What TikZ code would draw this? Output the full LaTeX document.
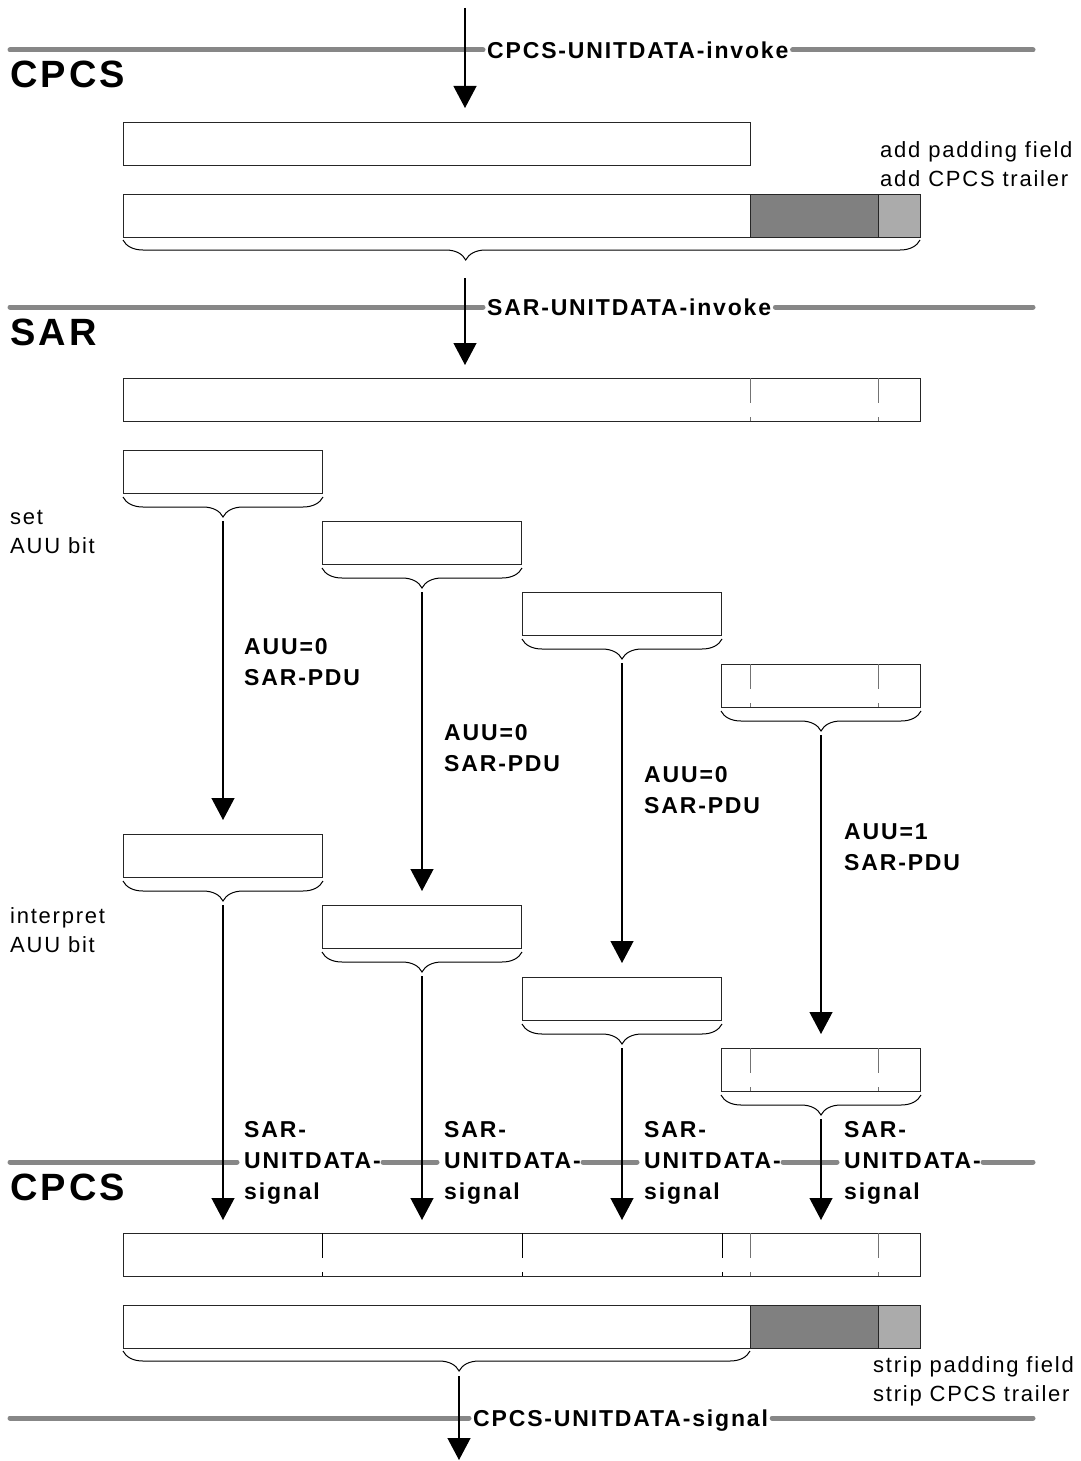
\documentclass[tikz,border=0pt]{standalone}
\usepackage{fontspec}
\setmainfont{Liberation Sans}[LetterSpace=8]
\usetikzlibrary{arrows.meta,decorations.pathreplacing}

\tikzset{
  layerline/.style={line width=5pt, color=black!47, line cap=round},
  layername/.style={font=\bfseries\fontsize{38}{40}\selectfont, anchor=north west, inner sep=0pt},
  prim/.style={font=\bfseries\fontsize{23}{31}\selectfont, text height=16.5pt, text depth=0pt, inner xsep=4pt, inner ysep=0pt, anchor=west},
  tag/.style={font=\bfseries\fontsize{23}{31}\selectfont, align=left, anchor=north west, inner sep=0pt},
  note/.style={font=\fontsize{22}{29.5}\selectfont, align=left, anchor=north west, inner sep=0pt},
  pdu/.style={draw=black!85, line width=1pt, inner sep=0pt, minimum height=43pt, anchor=north west},
  flow/.style={-{Triangle[length=22pt,width=23pt]}, line width=1.2pt},
  curly/.style={decorate, decoration={brace, mirror, amplitude=20pt}, line width=1pt},
  tick/.style={black!55, line width=1pt, dash pattern=on 25pt off 14pt on 4pt},
  padding/.style={draw=black!85, line width=1pt, fill=black!50},
  trailer/.style={draw=black!85, line width=1pt, fill=black!33},
}

\begin{document}
\begin{tikzpicture}[x=1pt,y=-1pt]
\useasboundingbox (0,0) rectangle (1081,1461);

% layer boundaries
\node[prim] (cpcsinv) at (483,50) {CPCS-UNITDATA-invoke};
\draw[layerline] (10,50) -- (cpcsinv.west);
\draw[layerline] (cpcsinv.east) -- (1033,50);
\node[prim] (sarinv) at (483,307) {SAR-UNITDATA-invoke};
\draw[layerline] (10,307) -- (sarinv.west);
\draw[layerline] (sarinv.east) -- (1033,307);
\foreach \a/\b in {10/237, 383/437, 583/637, 783/837, 983/1033}
  \draw[layerline] (\a,1162) -- (\b,1162);
\node[prim] (cpcssig) at (469,1418) {CPCS-UNITDATA-signal};
\draw[layerline] (10,1418) -- (cpcssig.west);
\draw[layerline] (cpcssig.east) -- (1033,1418);

\node[layername] (cpcs top) at (10,61) {CPCS};
\node[layername] (sar) at (10,319) {SAR};
\node[layername] (cpcs bottom) at (10,1174) {CPCS};

% CPCS, sending side
\coordinate (entry) at (465,8);
\node[pdu, minimum width=627pt] (sdu) at (123,122) {};
\node[pdu, minimum width=797pt] (cpcs pdu) at (123,194) {};
\draw[padding] (750,194) rectangle (878,237);
\draw[trailer] (878,194) rectangle (920,237);
\node[note] (addnote) at (880,141) {add padding field\\add CPCS trailer};
\draw[curly, decoration={aspect=0.43}] (123,240) -- (920,240);
\coordinate (tip cpcs) at (465,260);
\draw[flow, shorten >=14pt] (entry) -- (entry |- sdu.north);

% SAR
\node[pdu, minimum width=797pt] (sar sdu) at (123,378) {};
\foreach \t in {750,878}
  \draw[tick] (\t,378) -- (\t,421);
\draw[flow, shorten <=18pt, shorten >=13pt] (tip cpcs) -- (tip cpcs |- sar sdu.north);

\node[note] (setnote) at (10,510) {set\\AUU bit};
\node[note] (intnote) at (10,907) {interpret\\AUU bit};

% CPCS, receiving side
\node[pdu, minimum width=797pt] (cpcs rx) at (123,1233) {};
\foreach \t in {322,522,722}
  \draw[tick, black] (\t,1233) -- (\t,1276);
\foreach \t in {750,878}
  \draw[tick] (\t,1233) -- (\t,1276);

\foreach \sx/\sy/\ry [count=\i] in {123/450/834, 322/521/905, 522/592/977, 721/664/1048} {
  \node[pdu, minimum width=199pt] (seg\i) at (\sx,\sy) {};
  \node[pdu, minimum width=199pt] (rseg\i) at (\sx,\ry) {};
  \draw[curly] ([yshift=-3pt]seg\i.south west) -- ([yshift=-3pt]seg\i.south east);
  \draw[curly] ([yshift=-3pt]rseg\i.south west) -- ([yshift=-3pt]rseg\i.south east);
  \draw[flow, shorten <=4pt, shorten >=14pt] ([yshift=-23pt]seg\i.south) -- (rseg\i.north);
  \draw[flow, shorten <=4pt, shorten >=13pt] ([yshift=-23pt]rseg\i.south) -- (rseg\i.south |- cpcs rx.north);
}
\foreach \b in {seg4, rseg4}
  \foreach \t in {29,157}
    \draw[tick] ([xshift=\t pt]\b.north west) -- ([xshift=\t pt]\b.south west);

\node[tag] (pdu1) at (244,638) {AUU=0\\SAR-PDU};
\node[tag] (pdu2) at (444,724) {AUU=0\\SAR-PDU};
\node[tag] (pdu3) at (644,766) {AUU=0\\SAR-PDU};
\node[tag] (pdu4) at (844,823) {AUU=1\\SAR-PDU};
\foreach \x [count=\i] in {244,444,644,844}
  \node[tag] (sig\i) at (\x,1121) {SAR-\\UNITDATA-\\signal};

\node[pdu, minimum width=797pt] (cpcs rxpdu) at (123,1305) {};
\draw[padding] (750,1305) rectangle (878,1348);
\draw[trailer] (878,1305) rectangle (920,1348);
\node[note] (stripnote) at (873,1356) {strip padding field\\strip CPCS trailer};
\draw[curly, decoration={aspect=0.536}] (123,1351) -- (750,1351);
\coordinate (tip rx) at (459,1371);
\coordinate (exit) at (459,1460);
\draw[flow, shorten <=5pt] (tip rx) -- (exit);

\end{tikzpicture}
\end{document}
